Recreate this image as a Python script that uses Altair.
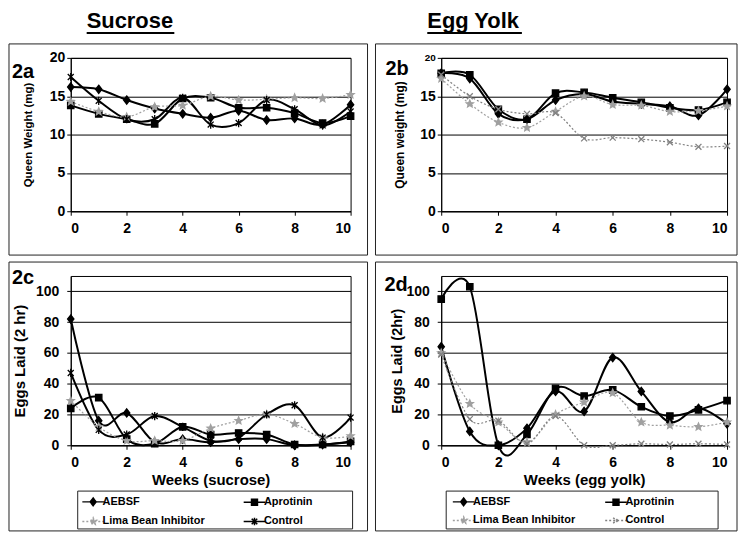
import altair as alt
import pandas as pd

weeks = list(range(11))
series = ["AEBSF", "Aprotinin", "Lima Bean Inhibitor", "Control"]

suc_weight_aebsf = [16.2, 15.9, 14.5, 13.4, 12.7, 12.2, 13.1, 11.9, 12.1, 11.3, 13.9]
suc_weight_aprotinin = [13.8, 12.7, 12.0, 11.4, 14.7, 14.8, 13.5, 13.5, 12.8, 11.5, 12.4]
suc_weight_lima = [14.3, 13.0, 12.3, 13.6, 13.8, 15.0, 14.5, 14.6, 14.8, 14.7, 15.2]
suc_weight_control = [17.5, 14.4, 12.0, 12.0, 14.8, 11.3, 11.5, 14.5, 13.3, 11.2, 13.0]

egg_weight_aebsf = [18.0, 17.3, 12.7, 12.0, 14.5, 15.3, 14.3, 14.0, 13.7, 12.5, 15.9]
egg_weight_aprotinin = [18.0, 17.8, 13.3, 12.0, 15.4, 15.5, 14.8, 14.2, 13.5, 13.2, 14.2]
egg_weight_lima = [17.3, 14.0, 11.6, 10.9, 13.0, 15.0, 13.9, 13.8, 13.0, 13.1, 13.7]
egg_weight_control = [17.8, 15.0, 13.3, 12.7, 12.8, 9.5, 9.6, 9.4, 9.0, 8.4, 8.5]

suc_eggs_aebsf = [82, 16, 21, 2, 4, 2, 4, 4, 0, 0.5, 2]
suc_eggs_aprotinin = [24, 31, 4, 1, 12, 7, 8, 7, 0.5, 0.5, 2.5]
suc_eggs_lima = [29, 12, 3, 3, 3, 11, 16, 20, 14, 5, 6]
suc_eggs_control = [47, 10, 7, 19, 12, 3, 5, 20, 26, 5, 18]

egg_eggs_aebsf = [64, 9, 0, 11, 35, 22, 57, 35, 15, 24, 14]
egg_eggs_aprotinin = [95, 103, 0, 7, 37, 32, 36, 25, 19, 23, 29]
egg_eggs_lima = [60, 27, 15, 2, 20, 28, 34, 15, 13, 12, 15]
egg_eggs_control = [59, 17, 16, 1, 19, 0, 0, 1, 0.5, 1, 0.5]

x_ticks = [0, 2, 4, 6, 8, 10]
weight_ticks = [0, 5, 10, 15, 20]
eggs_ticks = [0, 20, 40, 60, 80, 100]

# legend entries listed column by column so that rows read AEBSF | Aprotinin, Lima | Control
legend_order = [0, 2, 1, 3]

FONT = "Liberation Sans"

DIAMOND = "M0,-1.1L0.85,0L0,1.1L-0.85,0Z"
SQUARE = "M-0.85,-0.85H0.85V0.85H-0.85Z"
STAR = ("M0,-1L0.265,-0.364L0.951,-0.309L0.428,0.139L0.588,0.809L0,0.45"
        "L-0.588,0.809L-0.428,0.139L-0.951,-0.309L-0.265,-0.364Z")
ASTER = "M-0.8,-0.8L0.8,0.8M-0.8,0.8L0.8,-0.8M0,-1.1V1.1"
CROSS = "M-0.8,-0.8L0.8,0.8M-0.8,0.8L0.8,-0.8"
LINE = "M-3.1,0H3.1"


def long_df(values):
    rows = []
    for s, vals in zip(series, values):
        for w, v in zip(weeks, vals):
            rows.append({"week": w, "value": v, "series": s})
    return pd.DataFrame(rows)


suc_style = dict(
    colors=["#000000", "#000000", "#a0a0a0", "#000000"],
    solid=["AEBSF", "Aprotinin", "Control"],
    dotted=["Lima Bean Inhibitor"],
    shapes=[DIAMOND, SQUARE, STAR, ASTER],
    dash=[[1, 0], [1, 0], [2, 2], [1, 0]],
)
egg_style = dict(
    colors=["#000000", "#000000", "#a0a0a0", "#808080"],
    solid=["AEBSF", "Aprotinin"],
    dotted=["Lima Bean Inhibitor", "Control"],
    shapes=[DIAMOND, SQUARE, STAR, CROSS],
    dash=[[1, 0], [1, 0], [2, 2], [2, 2]],
)


def reorder(lst):
    return [lst[i] for i in legend_order]


def panel(df, st, w, h, ydom, yvals, ytitle, ytitle_size, label, label_x, label_y,
          frame_l, frame_r, frame_b, ylabpad, ytitlepad, xtitle=None,
          header=None, header_x=0, legend=False, leg_box=(0, 0), leg_cp=10, ylab_size=14):
    one = pd.DataFrame({"t": [label]})
    x = alt.X("week:Q", scale=alt.Scale(domain=[0, 10], nice=False, zero=False),
              axis=alt.Axis(values=x_ticks, grid=False, title=xtitle, titlePadding=3,
                            labelPadding=6, tickSize=4, titleFontSize=15))
    y = alt.Y("value:Q", scale=alt.Scale(domain=ydom, nice=False),
              axis=alt.Axis(values=yvals, grid=True, title=ytitle, tickSize=4,
                            labelPadding=ylabpad, titlePadding=ytitlepad,
                            titleFontSize=ytitle_size, labelFontSize=ylab_size))
    stroke_scale = alt.Scale(domain=series, range=st["colors"])
    layers = []
    layers.append(alt.Chart(one).mark_rect(fill="transparent", stroke="#222222", strokeWidth=1).encode(
        x=alt.value(-frame_l), x2=alt.value(w + frame_r), y=alt.value(-14), y2=alt.value(h + frame_b)))
    base = alt.Chart(df)
    layers.append(base.transform_filter(alt.FieldOneOfPredicate(field="series", oneOf=st["solid"]))
                  .mark_line(interpolate="cardinal", strokeWidth=2).encode(
        x=x, y=y, stroke=alt.Stroke("series:N", scale=stroke_scale, legend=None)))
    layers.append(base.transform_filter(alt.FieldOneOfPredicate(field="series", oneOf=st["dotted"]))
                  .mark_line(interpolate="cardinal", strokeWidth=1.2, strokeDash=[2, 2]).encode(
        x=x, y=y, stroke=alt.Stroke("series:N", scale=stroke_scale, legend=None)))
    layers.append(base.mark_point(opacity=1, size=56, strokeWidth=1.3).encode(
        x=x, y=y,
        shape=alt.Shape("series:N", scale=alt.Scale(domain=series, range=st["shapes"]), legend=None),
        fill=alt.Fill("series:N", scale=stroke_scale, legend=None),
        stroke=alt.Stroke("series:N", scale=stroke_scale, legend=None)))
    layers.append(alt.Chart(one).mark_text(font=FONT, fontSize=20, fontWeight="bold", align="left",
                                           baseline="alphabetic", color="black").encode(
        text="t:N", x=alt.value(label_x), y=alt.value(label_y)))
    if header:
        hd = pd.DataFrame({"t": [header]})
        layers.append(alt.Chart(hd).mark_text(font=FONT, fontSize=22, fontWeight="bold", align="left",
                                              baseline="alphabetic", color="black").encode(
            text="t:N", x=alt.value(header_x), y=alt.value(-30)))
        hw = {"Sucrose": 88, "Egg Yolk": 95}[header]
        layers.append(alt.Chart(hd).mark_rule(stroke="black", strokeWidth=2).encode(
            x=alt.value(header_x), x2=alt.value(header_x + hw), y=alt.value(-25)))
    if legend:
        lg = alt.Legend(title=None, orient="none", legendX=0, legendY=h + 51, columns=2,
                        columnPadding=leg_cp, rowPadding=5, symbolSize=49, symbolStrokeWidth=1.5,
                        symbolOffset=17, labelOffset=4, labelFont=FONT, labelFontSize=11,
                        labelFontWeight="bold", labelColor="black", padding=0)
        layers.append(alt.Chart(one).mark_rect(fill="transparent", stroke="#222222", strokeWidth=1).encode(
            x=alt.value(leg_box[0]), x2=alt.value(w + leg_box[1]),
            y=alt.value(h + 46), y2=alt.value(h + 84)))
        dom = reorder(series)
        layers.append(base.transform_filter("false").mark_point(opacity=1).encode(
            x=x, y=y,
            shape=alt.Shape("series:N", scale=alt.Scale(domain=dom,
                                                        range=[LINE + p for p in reorder(st["shapes"])]),
                            legend=lg),
            fill=alt.Fill("series:N", scale=alt.Scale(domain=dom, range=reorder(st["colors"])), legend=lg),
            stroke=alt.Stroke("series:N", scale=alt.Scale(domain=dom, range=reorder(st["colors"])), legend=lg),
            strokeDash=alt.StrokeDash("series:N", scale=alt.Scale(domain=dom, range=reorder(st["dash"])),
                                      legend=lg)))
    ind = dict(stroke="independent", fill="independent", shape="independent", strokeDash="independent")
    return alt.layer(*layers).resolve_scale(**ind).properties(width=w, height=h)


IND = dict(stroke="independent", fill="independent", shape="independent", strokeDash="independent")

WL, WR = 281, 287
HT, HB = 154, 170

p2a = panel(long_df([suc_weight_aebsf, suc_weight_aprotinin, suc_weight_lima, suc_weight_control]),
            suc_style, WL, HT, [0, 20], weight_ticks, "Queen Weight (mg)", 11.5, "2a", -59, 20,
            62, 17, 44, 2, 16, header="Sucrose", header_x=16)
p2c = panel(long_df([suc_eggs_aebsf, suc_eggs_aprotinin, suc_eggs_lima, suc_eggs_control]),
            suc_style, WL, HB, [0, 110], eggs_ticks, "Eggs Laid (2 hr)", 15, "2c", -59, 8,
            62, 17, 86, 8, 8, xtitle="Weeks (sucrose)", legend=True, leg_box=(7, 2), leg_cp=27)
p2b = panel(long_df([egg_weight_aebsf, egg_weight_aprotinin, egg_weight_lima, egg_weight_control]),
            egg_style, WR, HT, [0, 20], weight_ticks, "Queen weight (mg)", 12, "2b", -56, 17,
            66, 10, 44, 2, 13, header="Egg Yolk", header_x=-14,
            ylab_size={"condition": {"test": "datum.value == 20", "value": 10}, "value": 14})
p2d = panel(long_df([egg_eggs_aebsf, egg_eggs_aprotinin, egg_eggs_lima, egg_eggs_control]),
            egg_style, WR, HB, [0, 110], eggs_ticks, "Eggs Laid (2hr)", 14.5, "2d", -57, 15,
            66, 10, 86, 8, 2, xtitle="Weeks (egg yolk)", legend=True, leg_box=(5, -9), leg_cp=18)

left = alt.vconcat(p2a, p2c, spacing=5).resolve_scale(**IND)
right = alt.vconcat(p2b, p2d, spacing=5).resolve_scale(**IND)

chart = alt.hconcat(left, right, spacing=6).resolve_scale(**IND).properties(padding=0).configure(
    font=FONT
).configure_view(stroke="black", strokeWidth=1).configure_axis(
    labelFont=FONT, labelFontSize=14, labelFontWeight="bold", labelColor="black",
    titleFont=FONT, titleFontWeight="bold", titleColor="black",
    domainColor="black", tickColor="black", gridColor="black", gridWidth=1,
)

chart.save("out.html", embed_options={"renderer": "svg", "actions": False})
